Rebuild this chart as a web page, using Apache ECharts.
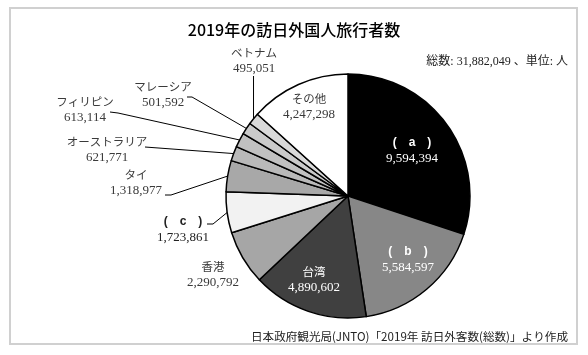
<!DOCTYPE html>
<html>
<head>
<meta charset="utf-8">
<script src="https://cdn.jsdelivr.net/npm/echarts@6/dist/echarts.min.js"></script>
<style>html,body{margin:0;padding:0;background:#fff}#c{width:588px;height:355px}</style>
</head>
<body>
<div id="c"></div>
<script>
// ---- data ----
const categories = ['(\u3000a\u3000)', '(\u3000b\u3000)', '台湾', '香港', '(\u3000c\u3000)', 'タイ', 'オーストラリア', 'フィリピン', 'マレーシア', 'ベトナム', 'その他'];
const values = [9594394, 5584597, 4890602, 2290792, 1723861, 1318977, 621771, 613114, 501592, 495051, 4247298];
const letterCategories = ['(\u3000a\u3000)', '(\u3000b\u3000)', '(\u3000c\u3000)'];
const titleText = '2019年の訪日外国人旅行者数';
const totalText = '総数: 31,882,049 、単位: 人';
const sourceText = '日本政府観光局(JNTO)「2019年 訪日外客数(総数)」より作成';

// ---- style / layout ----
const fills = ['#000000', '#878787', '#404040', '#a6a6a6', '#f2f2f2', '#a8a8a8', '#b9b9b9', '#c1c1c1', '#cacaca', '#d9d9d9', '#ffffff'];
const textColors = ['#ffffff', '#ffffff', '#ffffff', '#3a3a3a', '#222', '#3a3a3a', '#3a3a3a', '#3a3a3a', '#3a3a3a', '#3a3a3a', '#3a3a3a'];
const inside = [true, true, true, false, false, false, false, false, false, false, true];
const CX = 348, CY = 196, R = 122;
// label block centers
const labelPos = [[412, 151], [408, 260], [314, 280], [213, 275], [183, 230], [136, 183], [107, 150], [85, 110], [163, 95], [254, 61], [309, 107]];
// leader line points after the slice edge point (null = no line)
const linePts = [null, null, null, null, [[213, 224], [207, 224]], [[171, 195], [165, 195]], [[145, 147], [145, 147]], [[118, 113], [110, 112]], [[192, 97], [187, 97]], 'v76', null];

const total = values.reduce((a, b) => a + b, 0);
function edgePoint(i) {
  let before = 0;
  for (let k = 0; k < i; k++) before += values[k];
  const mid = (before + values[i] / 2) / total * Math.PI * 2;
  return [CX + R * Math.sin(mid), CY - R * Math.cos(mid)];
}
function fmt(n) { return n.toString().replace(/\B(?=(\d{3})+(?!\d))/g, ','); }

const chart = echarts.init(document.getElementById('c'), null, { renderer: 'canvas' });
const data = categories.map((name, i) => ({
  name: name,
  value: values[i],
  itemStyle: { color: fills[i] },
  label: { position: inside[i] ? 'inside' : 'outside', color: textColors[i] },
  labelLine: { show: !!linePts[i] }
}));

chart.setOption({
  animation: false,
  title: {
    text: titleText, left: 'center', top: 17,
    textStyle: { fontFamily: 'Noto Sans CJK JP', fontSize: 16, fontWeight: 500, color: '#000' }
  },
  graphic: [
    { type: 'rect', shape: { x: 10, y: 8, width: 567, height: 336 }, style: { fill: 'none', stroke: '#d0d0d0', lineWidth: 2 }, silent: true },
    { type: 'text', x: 568, y: 62, style: { text: totalText, textAlign: 'right', textVerticalAlign: 'middle', font: '12px "Liberation Serif", "Noto Sans CJK JP"', fill: '#222' } },
    { type: 'text', x: 568, y: 337, style: { text: sourceText, textAlign: 'right', textVerticalAlign: 'middle', font: '11.6px "Noto Sans CJK JP"', fill: '#222' } }
  ],
  series: [{
    type: 'pie',
    center: [CX, CY],
    radius: R,
    startAngle: 90,
    clockwise: true,
    avoidLabelOverlap: false,
    data: data,
    itemStyle: { borderColor: '#000', borderWidth: 1.5 },
    label: {
      show: true,
      formatter: function (p) {
        const isLetter = letterCategories.indexOf(p.name) >= 0;
        return (isLetter ? '{L|' + p.name + '}' : '{n|' + p.name + '}') + '\n{v|' + fmt(p.value) + '}';
      },
      rich: {
        n: { fontFamily: 'Noto Sans CJK JP', fontSize: 11.5, lineHeight: 16 },
        L: { fontFamily: 'Liberation Sans', fontWeight: 'bold', fontSize: 12, lineHeight: 16 },
        v: { fontFamily: 'Liberation Serif', fontSize: 13, lineHeight: 16 }
      }
    },
    labelLine: { show: true, smooth: false, lineStyle: { color: '#000', width: 1 } },
    labelLayout: function (params) {
      const i = params.dataIndex;
      const p = labelPos[i];
      const out = { x: p[0], y: p[1], align: 'center', verticalAlign: 'middle' };
      const lp = linePts[i];
      if (lp) {
        const e = edgePoint(i);
        if (lp === 'v76') out.labelLinePoints = [e, [e[0], 76], [e[0], 76]];
        else out.labelLinePoints = [e, lp[0], lp[1]];
      }
      return out;
    }
  }]
});
</script>
</body>
</html>
